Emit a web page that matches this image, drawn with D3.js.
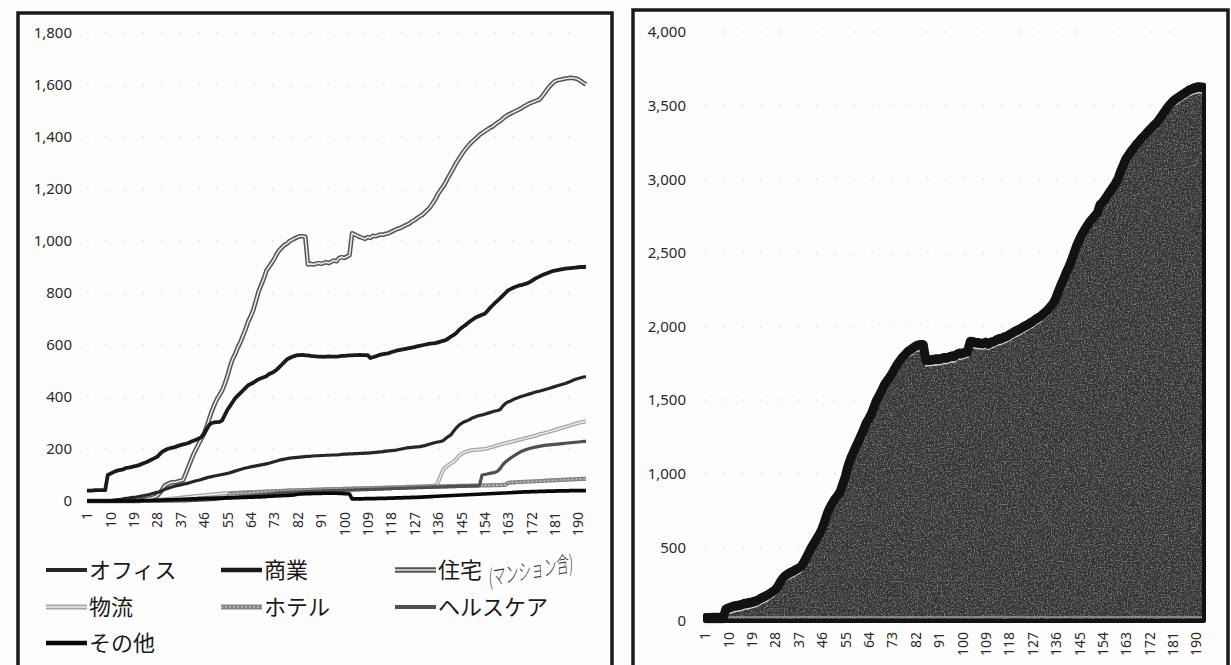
<!DOCTYPE html>
<html>
<head>
<meta charset="utf-8">
<script src="https://cdn.jsdelivr.net/npm/d3@7"></script>
<style>
  html, body { margin: 0; padding: 0; background: #fdfdfd; }
  svg { display: block; }
</style>
</head>
<body>
<svg id="chart" width="1231" height="665"></svg>
<script>
// series names, in legend order
let seriesNames = ['オフィス', '商業', '住宅', '物流', 'ホテル', 'ヘルスケア', 'その他']

// values per period (1..193)
let office = [
  0, 0, 0, 0, 0, 0, 0, 0, 0, 2,
  3, 4, 5, 6, 8, 10, 11, 13, 14, 15,
  17, 19, 21, 23, 25, 28, 31, 33, 35, 40,
  45, 48, 52, 55, 58, 60, 62, 65, 67, 69,
  72, 75, 78, 80, 83, 86, 89, 92, 94, 96,
  98, 100, 102, 104, 106, 109, 112, 115, 118, 121,
  124, 127, 129, 131, 133, 135, 137, 139, 141, 143,
  145, 148, 151, 154, 157, 159, 161, 163, 165, 166,
  167, 168, 169, 170, 171, 172, 172, 173, 174, 174,
  175, 175, 176, 176, 177, 177, 177, 178, 179, 180,
  180, 181, 181, 182, 182, 183, 183, 184, 184, 185,
  186, 187, 188, 189, 190, 192, 193, 194, 195, 196,
  198, 200, 202, 204, 205, 206, 207, 208, 209, 211,
  213, 216, 219, 222, 225, 227, 229, 232, 240, 248,
  254, 268, 280, 290, 298, 304, 308, 312, 318, 322,
  326, 329, 331, 334, 337, 340, 343, 346, 348, 352,
  365, 375, 381, 385, 390, 394, 398, 402, 405, 408,
  411, 414, 417, 420, 422, 425, 428, 431, 434, 437,
  440, 443, 446, 449, 452, 456, 460, 464, 468, 471,
  474, 477, 478
]

let commercial = [
  40, 40, 40, 42, 42, 42, 42, 42, 100, 105,
  110, 115, 118, 120, 122, 127, 128, 130, 133, 135,
  138, 142, 146, 150, 155, 160, 165, 170, 180, 190,
  195, 200, 203, 205, 208, 212, 215, 218, 220, 223,
  228, 232, 236, 240, 246, 258, 275, 292, 300, 302,
  303, 304, 310, 330, 350, 365, 380, 395, 405, 415,
  425, 435, 445, 450, 455, 462, 468, 472, 476, 480,
  488, 492, 498, 505, 515, 525, 535, 545, 550, 555,
  558, 561, 561, 562, 560, 560, 558, 557, 556, 555,
  555, 554, 555, 556, 555, 555, 555, 556, 558, 558,
  559, 560, 560, 561, 561, 562, 561, 561, 561, 550,
  553, 556, 560, 563, 565, 567, 568, 572, 575, 578,
  580, 582, 584, 586, 588, 590, 592, 595, 597, 599,
  601, 603, 605, 606, 607, 610, 613, 616, 619, 625,
  632, 638, 645, 656, 665, 672, 680, 688, 695, 702,
  708, 712, 716, 720, 730, 742, 752, 762, 771, 780,
  790, 800, 810, 815, 820, 824, 828, 830, 833, 836,
  840, 846, 852, 858, 863, 868, 872, 876, 880, 884,
  886, 888, 890, 892, 894, 895, 896, 897, 898, 899,
  900, 900, 901
]

let residential = [
  0, 0, 0, 0, 0, 0, 0, 0, 0, 0,
  0, 0, 0, 0, 0, 0, 0, 0, 0, 0,
  0, 5, 6, 8, 10, 12, 15, 20, 31, 45,
  60, 65, 70, 72, 72, 75, 78, 81, 105, 130,
  155, 180, 200, 220, 240, 258, 285, 315, 345, 370,
  392, 408, 425, 450, 480, 515, 545, 565, 590, 610,
  635, 660, 690, 710, 735, 770, 805, 830, 855, 885,
  900, 915, 930, 950, 965, 975, 985, 990, 1000, 1005,
  1010, 1015, 1018, 1018, 1016, 910, 912, 910, 912, 915,
  912, 915, 918, 915, 920, 925, 922, 935, 938, 935,
  940, 945, 1030, 1025, 1020, 1015, 1012, 1008, 1015, 1012,
  1020, 1018, 1022, 1025, 1024, 1028, 1030, 1035, 1040, 1045,
  1048, 1052, 1058, 1062, 1067, 1075, 1080, 1088, 1095, 1100,
  1110, 1119, 1130, 1145, 1160, 1180, 1195, 1209, 1225, 1245,
  1262, 1280, 1299, 1315, 1330, 1345, 1358, 1370, 1380, 1389,
  1398, 1408, 1415, 1422, 1428, 1435, 1440, 1448, 1455, 1462,
  1470, 1479, 1485, 1490, 1495, 1500, 1505, 1510, 1517, 1522,
  1528, 1532, 1536, 1540, 1543, 1555, 1568, 1582, 1595, 1605,
  1614, 1618, 1620, 1622, 1625, 1626, 1628, 1627, 1625, 1622,
  1615, 1608, 1602
]

let logistics = [
  0, 0, 0, 0, 0, 0, 0, 0, 0, 0,
  0, 0, 0, 0, 0, 0, 0, 0, 0, 1,
  1, 2, 2, 3, 3, 4, 4, 5, 5, 6,
  7, 8, 9, 10, 11, 12, 13, 14, 15, 16,
  17, 18, 19, 20, 21, 22, 23, 24, 25, 26,
  27, 28, 29, 30, 30, 31, 31, 32, 32, 33,
  33, 34, 34, 35, 35, 35, 36, 36, 36, 37,
  37, 37, 38, 38, 38, 39, 39, 39, 40, 40,
  40, 41, 41, 41, 42, 42, 42, 43, 43, 43,
  44, 44, 44, 45, 45, 45, 46, 46, 46, 47,
  47, 47, 48, 48, 48, 49, 49, 49, 50, 50,
  50, 51, 51, 51, 52, 52, 52, 53, 53, 53,
  54, 54, 54, 55, 55, 55, 56, 56, 56, 57,
  57, 58, 58, 59, 60, 69, 95, 119, 130, 138,
  145, 150, 160, 172, 180, 186, 190, 193, 195, 196,
  197, 198, 199, 200, 202, 205, 208, 211, 214, 217,
  220, 222, 225, 227, 230, 232, 235, 237, 240, 242,
  245, 247, 250, 253, 256, 259, 261, 264, 267, 270,
  273, 276, 279, 282, 285, 288, 291, 294, 297, 300,
  303, 305, 307
]

let hotel = [
  0, 0, 0, 0, 0, 0, 0, 0, 0, 0,
  0, 0, 0, 0, 0, 0, 0, 0, 0, 0,
  0, 0, 0, 0, 0, 0, 0, 0, 0, 1,
  1, 2, 2, 3, 3, 4, 4, 5, 5, 6,
  6, 7, 7, 8, 8, 9, 9, 10, 10, 11,
  11, 12, 12, 13, 13, 28, 29, 29, 30, 30,
  31, 31, 32, 32, 33, 33, 34, 34, 35, 35,
  36, 36, 37, 37, 38, 38, 39, 39, 40, 40,
  40, 41, 41, 42, 42, 42, 43, 43, 43, 44,
  44, 44, 45, 45, 45, 46, 46, 46, 46, 47,
  47, 47, 47, 48, 48, 48, 48, 49, 49, 49,
  49, 50, 50, 50, 50, 51, 51, 51, 51, 52,
  52, 52, 52, 53, 53, 53, 53, 54, 54, 54,
  54, 55, 55, 55, 55, 56, 56, 56, 56, 57,
  57, 57, 57, 58, 58, 58, 58, 59, 59, 59,
  59, 60, 60, 60, 60, 60, 61, 61, 61, 61,
  62, 62, 70, 71, 72, 72, 73, 73, 74, 74,
  75, 75, 76, 76, 77, 77, 78, 78, 79, 79,
  80, 80, 81, 81, 82, 82, 83, 83, 84, 84,
  85, 85, 85
]

let healthcare = [
  0, 0, 0, 0, 0, 0, 0, 0, 0, 0,
  0, 0, 0, 0, 0, 0, 0, 0, 0, 0,
  0, 0, 0, 0, 0, 0, 0, 0, 0, 0,
  0, 0, 0, 0, 0, 0, 0, 0, 0, 1,
  1, 2, 2, 3, 3, 4, 4, 5, 5, 6,
  7, 8, 9, 10, 11, 12, 13, 14, 15, 16,
  17, 18, 19, 20, 21, 22, 23, 24, 25, 26,
  27, 28, 29, 30, 31, 31, 32, 32, 33, 33,
  34, 34, 35, 35, 36, 36, 37, 37, 38, 38,
  38, 39, 39, 39, 40, 40, 40, 41, 41, 41,
  42, 42, 42, 43, 43, 43, 44, 44, 44, 45,
  45, 45, 46, 46, 46, 47, 47, 47, 48, 48,
  48, 49, 49, 49, 50, 50, 50, 51, 51, 51,
  52, 52, 52, 53, 53, 53, 54, 54, 54, 55,
  55, 55, 56, 56, 56, 57, 57, 57, 58, 58,
  58, 59, 100, 102, 104, 106, 108, 110, 115, 125,
  140, 150, 158, 165, 172, 178, 184, 190, 194, 198,
  201, 204, 206, 208, 210, 212, 214, 215, 216, 217,
  218, 219, 220, 221, 222, 223, 224, 225, 226, 227,
  228, 229, 229
]

let other = [
  0, 0, 0, 0, 0, 0, 0, 0, 0, 0,
  0, 0, 0, 0, 0, 0, 0, 0, 0, 1,
  1, 1, 2, 2, 2, 3, 3, 3, 4, 4,
  4, 5, 5, 5, 6, 6, 6, 7, 7, 7,
  8, 8, 8, 9, 9, 9, 10, 10, 10, 10,
  11, 11, 11, 12, 12, 12, 13, 13, 13, 14,
  14, 14, 15, 15, 15, 16, 16, 16, 17, 17,
  18, 18, 19, 19, 20, 20, 21, 21, 22, 22,
  24, 26, 27, 27, 28, 28, 28, 29, 29, 29,
  29, 30, 30, 30, 30, 30, 30, 29, 29, 28,
  28, 27, 8, 8, 8, 8, 8, 9, 9, 9,
  9, 9, 10, 10, 10, 10, 11, 11, 11, 12,
  12, 12, 13, 13, 13, 14, 14, 14, 15, 15,
  16, 16, 17, 17, 18, 18, 19, 19, 20, 20,
  21, 21, 22, 22, 23, 23, 24, 24, 25, 25,
  26, 26, 27, 27, 28, 28, 29, 29, 30, 30,
  31, 31, 32, 32, 33, 33, 34, 34, 35, 35,
  35, 36, 36, 36, 37, 37, 37, 38, 38, 38,
  38, 39, 39, 39, 39, 39, 40, 40, 40, 40,
  40, 40, 40
]

// tick labels
let xTicks = [1, 10, 19, 28, 37, 46, 55, 64, 73, 82, 91, 100, 109, 118, 127, 136, 145, 154, 163, 172, 181, 190]
let leftTicks = [0, 200, 400, 600, 800, 1000, 1200, 1400, 1600, 1800]
let rightTicks = [0, 500, 1000, 1500, 2000, 2500, 3000, 3500, 4000]

let seriesValues = [office, commercial, residential, logistics, hotel, healthcare, other]
let N = office.length
seriesValues.forEach((s, i) => {
  if (s.length !== N) throw new Error('length mismatch ' + seriesNames[i] + ' ' + s.length)
})
let categories = d3.range(1, N + 1)

// grayscale styles of the printed lines: [outer colour, outer width, inner colour, inner width, inner dash]
let lineStyles = [
  ['#262626', 3.2, null, 0, null],
  ['#1a1a1a', 3.8, null, 0, null],
  ['#555555', 4.6, '#e6e6e6', 1.6, null],
  ['#a6a6a6', 4, '#ececec', 1.4, null],
  ['#858585', 4.2, '#c0c0c0', 1.6, '2,2'],
  ['#4f4f4f', 3.2, null, 0, null],
  ['#080808', 3.6, null, 0, null]
]

let svg = d3.select('#chart')
let labelFont = "'Noto Sans', 'DejaVu Sans', sans-serif"

// grain for the dark printed area
let defs = svg.append('defs')
let grain = defs.append('filter').attr('id', 'grain')
grain.append('feTurbulence')
  .attr('type', 'fractalNoise')
  .attr('baseFrequency', 0.7)
  .attr('numOctaves', 2)
  .attr('seed', 4)
  .attr('result', 'noise')
grain.append('feColorMatrix')
  .attr('in', 'noise')
  .attr('type', 'matrix')
  .attr('values', '0 0 0 0 0.5  0 0 0 0 0.5  0 0 0 0 0.5  1.2 0 0 0 -0.58')
  .attr('result', 'speck')
grain.append('feComposite')
  .attr('in', 'speck')
  .attr('in2', 'SourceGraphic')
  .attr('operator', 'in')
  .attr('result', 'spk')
let merge = grain.append('feMerge')
merge.append('feMergeNode').attr('in', 'SourceGraphic')
merge.append('feMergeNode').attr('in', 'spk')

// ---------- left chart: lines ----------
let xL = d3.scalePoint().domain(categories).range([87, 586])
let yL = d3.scaleLinear().domain([0, 1800]).range([501, 33])

let left = svg.append('g')

left.append('rect')
  .attr('x', 18)
  .attr('y', 13)
  .attr('width', 594)
  .attr('height', 700)
  .attr('fill', 'none')
  .attr('stroke', '#1a1a1a')
  .attr('stroke-width', 3.5)

left.selectAll('.grid')
  .data(leftTicks.slice(1))
  .enter()
  .append('line')
  .attr('x1', 87)
  .attr('x2', 585)
  .attr('y1', d => yL(d))
  .attr('y2', d => yL(d))
  .attr('stroke', '#dedede')
  .attr('stroke-width', 1.5)
  .attr('stroke-dasharray', '1.5,17')

let yAxisL = left.append('g')
  .attr('transform', 'translate(72,0)')
  .call(d3.axisLeft(yL).tickValues(leftTicks).tickSize(0).tickPadding(0).tickFormat(d3.format(',')))
yAxisL.select('.domain').remove()
yAxisL.selectAll('text')
  .attr('font-family', labelFont)
  .attr('font-size', 15)
  .attr('fill', '#2a2a2a')

let xAxisL = left.append('g')
  .attr('transform', 'translate(0,510)')
  .call(d3.axisBottom(xL).tickValues(xTicks).tickSize(0).tickPadding(0))
xAxisL.select('.domain').remove()
xAxisL.selectAll('text')
  .attr('font-family', labelFont)
  .attr('font-size', 14)
  .attr('fill', '#2a2a2a')
  .attr('transform', 'rotate(-90)')
  .attr('text-anchor', 'end')
  .attr('x', -2)
  .attr('y', 0)
  .attr('dy', '0.34em')

let line = d3.line()
  .x((d, i) => xL(categories[i]))
  .y(d => yL(d))

// draw back to front so the dark lines sit on top like the print
let drawOrder = [3, 4, 5, 2, 0, 1, 6]
drawOrder.forEach(k => {
  let st = lineStyles[k]
  left.append('path')
    .datum(seriesValues[k])
    .attr('d', line)
    .attr('fill', 'none')
    .attr('stroke', st[0])
    .attr('stroke-width', st[1])
    .attr('stroke-linejoin', 'round')
  if (st[2]) {
    left.append('path')
      .datum(seriesValues[k])
      .attr('d', line)
      .attr('fill', 'none')
      .attr('stroke', st[2])
      .attr('stroke-width', st[3])
      .attr('stroke-dasharray', st[4])
      .attr('stroke-linejoin', 'round')
  }
})

// legend
let colX = [46, 221, 395]
let rowY = [570, 607, 643]
let legend = left.selectAll('.legend-item')
  .data(seriesNames)
  .enter()
  .append('g')
  .attr('class', 'legend-item')
  .attr('transform', (d, i) => `translate(${colX[i % 3]},${rowY[Math.floor(i / 3)]})`)

legend.append('line')
  .attr('x1', 0)
  .attr('x2', 41)
  .attr('stroke', (d, i) => lineStyles[i][0])
  .attr('stroke-width', (d, i) => lineStyles[i][1] + 0.8)
legend.filter((d, i) => lineStyles[i][2])
  .append('line')
  .attr('x1', 0)
  .attr('x2', 41)
  .attr('stroke', d => lineStyles[seriesNames.indexOf(d)][2])
  .attr('stroke-width', d => lineStyles[seriesNames.indexOf(d)][3])
  .attr('stroke-dasharray', d => lineStyles[seriesNames.indexOf(d)][4])
legend.append('text')
  .text(d => d)
  .attr('x', 43)
  .attr('dy', '0.36em')
  .attr('font-family', "'Noto Sans CJK JP', sans-serif")
  .attr('font-size', 22)
  .attr('fill', '#1a1a1a')

// handwritten note next to 住宅
left.append('text')
  .text('(マンション含)')
  .attr('transform', 'translate(489,586) rotate(-10) scale(0.76,1.3)')
  .attr('font-family', "'Noto Sans CJK JP', sans-serif")
  .attr('font-size', 17)
  .attr('font-weight', 300)
  .attr('font-style', 'italic')
  .attr('fill', '#3a3a3a')

// ---------- right chart: stacked total ----------
let xR = d3.scalePoint().domain(categories).range([705, 1204])
let yR = d3.scaleLinear().domain([0, 4000]).range([621, 32])

let right = svg.append('g')

right.append('rect')
  .attr('x', 633)
  .attr('y', 10)
  .attr('width', 595)
  .attr('height', 700)
  .attr('fill', 'none')
  .attr('stroke', '#1a1a1a')
  .attr('stroke-width', 3.5)

right.selectAll('.grid')
  .data(rightTicks.slice(1))
  .enter()
  .append('line')
  .attr('x1', 705)
  .attr('x2', 1204)
  .attr('y1', d => yR(d))
  .attr('y2', d => yR(d))
  .attr('stroke', '#dedede')
  .attr('stroke-width', 1.5)
  .attr('stroke-dasharray', '1.5,17')

let yAxisR = right.append('g')
  .attr('transform', 'translate(686,0)')
  .call(d3.axisLeft(yR).tickValues(rightTicks).tickSize(0).tickPadding(0).tickFormat(d3.format(',')))
yAxisR.select('.domain').remove()
yAxisR.selectAll('text')
  .attr('font-family', labelFont)
  .attr('font-size', 15)
  .attr('fill', '#2a2a2a')

let xAxisR = right.append('g')
  .attr('transform', 'translate(0,630)')
  .call(d3.axisBottom(xR).tickValues(xTicks).tickSize(0).tickPadding(0))
xAxisR.select('.domain').remove()
xAxisR.selectAll('text')
  .attr('font-family', labelFont)
  .attr('font-size', 14)
  .attr('fill', '#2a2a2a')
  .attr('transform', 'rotate(-90)')
  .attr('text-anchor', 'end')
  .attr('x', -2)
  .attr('y', 0)
  .attr('dy', '0.34em')

let rows = categories.map((c, i) => {
  let row = { period: c }
  seriesNames.forEach((name, k) => { row[name] = seriesValues[k][i] })
  return row
})
let stacked = d3.stack().keys(seriesNames)(rows)
let topLayer = stacked[stacked.length - 1]

let area = d3.area()
  .x(d => xR(d.data.period))
  .y0(yR(0))
  .y1(d => yR(d[1]))

let topLine = d3.line()
  .x(d => xR(d.data.period))
  .y(d => yR(d[1]))

right.append('path')
  .datum(topLayer)
  .attr('d', area)
  .attr('fill', '#353535')
  .attr('filter', 'url(#grain)')

// light strip just above the baseline
right.append('line')
  .attr('x1', xR(10))
  .attr('x2', xR(N))
  .attr('y1', yR(0) - 4)
  .attr('y2', yR(0) - 4)
  .attr('stroke', '#c8c8c8')
  .attr('stroke-width', 1.2)

// faint light edge under the black top band
right.append('path')
  .datum(topLayer)
  .attr('d', topLine)
  .attr('transform', 'translate(0,8.5)')
  .attr('fill', 'none')
  .attr('stroke', '#d4d4d4')
  .attr('stroke-width', 1.4)

// black top band
right.append('path')
  .datum(topLayer)
  .attr('d', topLine)
  .attr('transform', 'translate(0,3)')
  .attr('fill', 'none')
  .attr('stroke', '#121212')
  .attr('stroke-width', 9)
  .attr('stroke-linejoin', 'round')

right.append('path')
  .datum(topLayer)
  .attr('d', area)
  .attr('fill', 'none')
  .attr('stroke', '#121212')
  .attr('stroke-width', 4)
  .attr('stroke-linejoin', 'round')
</script>
</body>
</html>
